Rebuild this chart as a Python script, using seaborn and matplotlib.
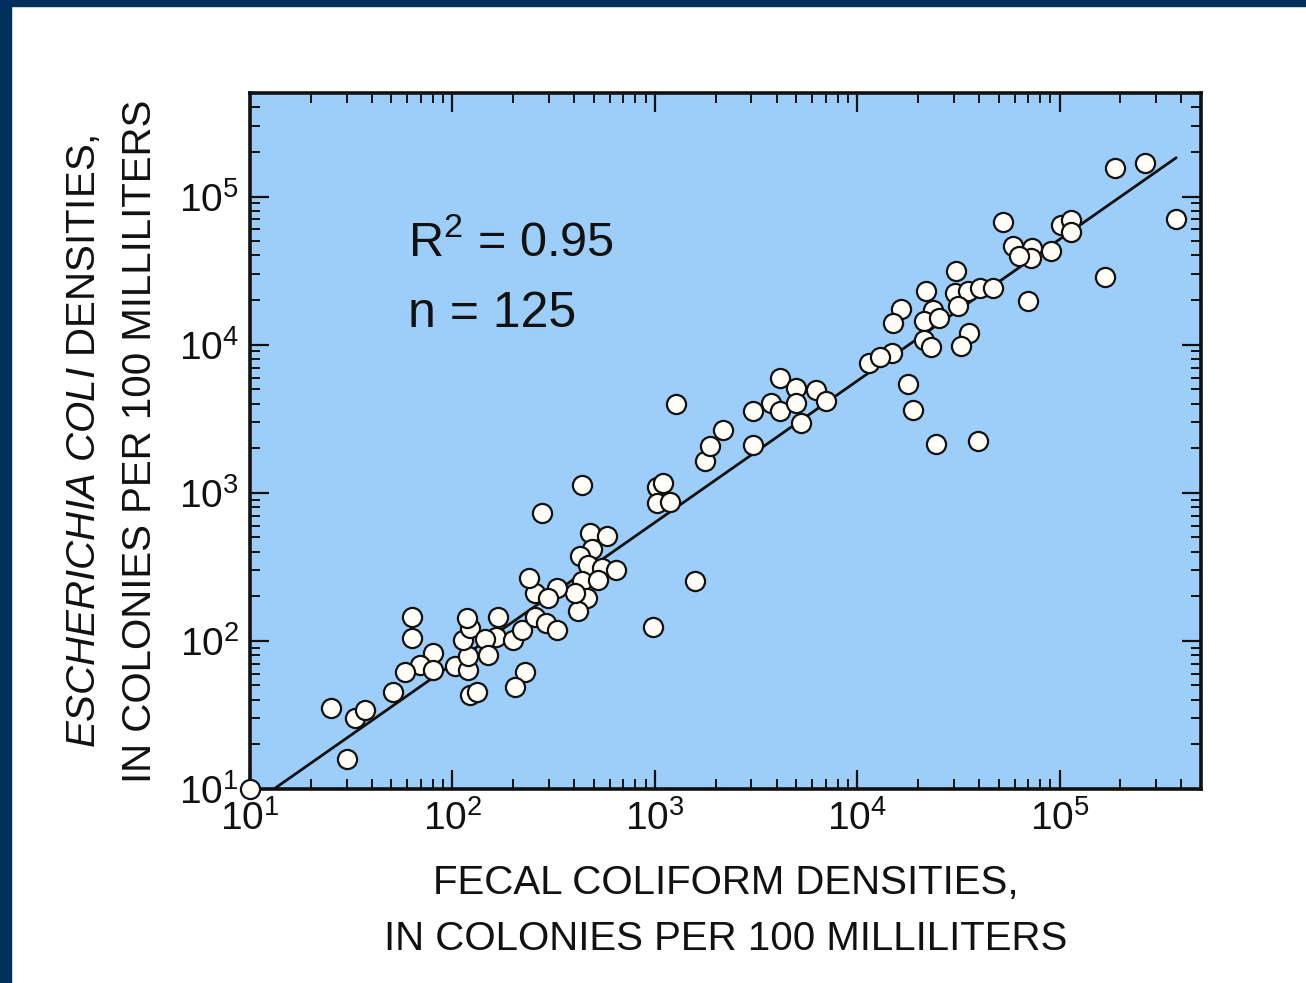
import numpy as np
import matplotlib
matplotlib.use("Agg")
import matplotlib.pyplot as plt
import matplotlib.ticker as mticker
from matplotlib.patches import Rectangle
import seaborn as sns

# Fecal coliform (x) vs E. coli (y), colonies per 100 mL
fecal_coliform = [
    10, 30, 25, 33, 37, 51, 63, 63, 80, 69, 80, 58, 103, 120, 120, 113, 122,
    118, 168, 165, 145, 150, 200, 220, 255, 255, 290, 330, 122, 132, 228, 204,
    480, 580, 490, 427, 469, 546, 640, 435, 525, 460, 418, 403, 330, 239, 297,
    980, 435, 276, 1580, 1020, 1100, 1020, 1190, 1770, 1280, 2170, 1870, 3050,
    3050, 3770, 4140, 4140, 5010, 5010, 6280, 7050, 5300, 11500, 30900, 22000,
    30300, 35200, 40300, 46900, 31500, 16500, 15000, 23700, 21500, 25500,
    21500, 23200, 35900, 32700, 14800, 12900, 17800, 18900, 24600, 39500,
    52500, 102000, 114000, 114000, 58800, 73300, 72400, 63400, 91000, 69800,
    167000, 187000, 263000, 377000,
]
e_coli = [
    10, 16, 35, 30, 34, 45, 146, 104, 83, 69, 64, 62, 68, 64, 79, 102, 122,
    142, 146, 107, 103, 80, 102, 119, 146, 210, 132, 119, 43, 45, 62, 49,
    535, 507, 417, 372, 326, 310, 302, 252, 258, 195, 158, 210, 227, 265, 195,
    124, 1130, 730, 252, 1100, 1160, 850, 860, 1630, 3990, 2640, 2060, 2090,
    3540, 4040, 5960, 3540, 5090, 4040, 4970, 4140, 2960, 7520, 31300, 22900,
    22300, 22900, 24200, 24200, 18200, 17400, 14000, 17200, 14400, 15100,
    10800, 9640, 12000, 9750, 8790, 8260, 5450, 3640, 2140, 2220,
    67000, 64700, 69200, 57700, 46700, 45000, 38600, 39900, 42700, 19600,
    28600, 156000, 169000, 71000,
]

# Regression line as drawn (log10 E = slope * log10 FC + intercept)
fit_slope = 0.956
fit_intercept = -0.069
fit_x_range = [13.3, 3.77e5]

r_squared = "0.95"
n_samples = 125
decades = [1, 2, 3, 4, 5]

# Style / fonts
sns.set_theme(style="ticks")
main_font = "Liberation Sans"
plt.rcParams["font.family"] = [main_font, "DejaVu Sans"]
plt.rcParams["mathtext.fontset"] = "custom"
plt.rcParams["mathtext.rm"] = main_font
plt.rcParams["mathtext.it"] = main_font + ":italic"

fig = plt.figure(figsize=(13.06, 9.83), dpi=100, facecolor="white")
ax = fig.add_axes([250 / 1306, 1 - 789 / 983, 951 / 1306, 696 / 983])
ax.set_facecolor("#9dcdf9")
ax.set_xscale("log")
ax.set_yscale("log")

# Fit line, then the points on top
fit_x = np.array(fit_x_range)
fit_y = 10 ** fit_intercept * fit_x ** fit_slope
sns.lineplot(x=fit_x, y=fit_y, ax=ax, color="#111111", linewidth=2.0, zorder=2)
sns.scatterplot(x=fecal_coliform, y=e_coli, ax=ax, s=190, color="#fffdf6",
                edgecolor="#111111", linewidth=1.6, zorder=3, clip_on=False)

ax.set_xlim(10, 5e5)
ax.set_ylim(10, 5e5)

# Ticks: decades labelled as powers of ten, minor ticks everywhere, all inward
for axis in (ax.xaxis, ax.yaxis):
    axis.set_major_locator(mticker.FixedLocator([10 ** d for d in decades]))
    axis.set_major_formatter(mticker.FuncFormatter(
        lambda v, p: r"$\mathregular{10^{%d}}$" % int(round(np.log10(v)))))
    axis.set_minor_locator(mticker.LogLocator(base=10, subs=np.arange(2, 10)))
    axis.set_minor_formatter(mticker.NullFormatter())
ax.tick_params(which="major", direction="in", length=14, width=1.6, top=True,
               right=True, labelsize=28, pad=8, colors="#111111")
ax.tick_params(which="minor", direction="in", length=7, width=1.4, top=True,
               right=True, colors="#111111")
for spine in ax.spines.values():
    spine.set_linewidth(2.6)
    spine.set_color("#111111")

ax.set_xlabel("FECAL COLIFORM DENSITIES,\nIN COLONIES PER 100 MILLILITERS",
              fontsize=29, labelpad=19, linespacing=1.6, color="#111111")
ax.set_ylabel(r"$\mathit{ESCHERICHIA\ COLI}$ DENSITIES," + "\nIN COLONIES PER 100 MILLILITERS",
              fontsize=29, labelpad=14, linespacing=1.6, color="#111111")

ax.text(0.166, 0.766, r"$\mathregular{R^2}$ = " + r_squared, transform=ax.transAxes,
        fontsize=35, va="baseline", color="#111111")
ax.text(0.166, 0.664, f"n = {n_samples}", transform=ax.transAxes,
        fontsize=36, va="baseline", color="#111111")

# Navy frame strips on the left and top edges
navy = "#002f5b"
fig.add_artist(Rectangle((0, 0), 11 / 1306, 1, transform=fig.transFigure, color=navy, zorder=10))
fig.add_artist(Rectangle((0, 1 - 6 / 983), 1, 6 / 983, transform=fig.transFigure, color=navy, zorder=10))

fig.savefig("out.png", dpi=100)
